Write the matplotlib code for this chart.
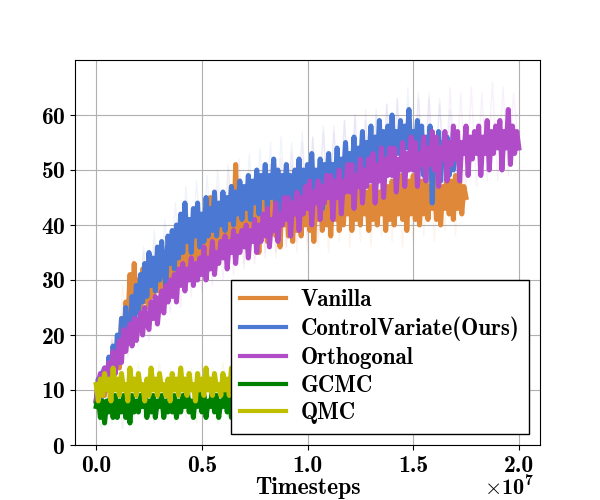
import matplotlib
matplotlib.use("Agg")
import matplotlib.pyplot as plt
from matplotlib.ticker import FuncFormatter
import numpy as np

plt.rcParams['font.family'] = ['cmb10', 'DejaVu Serif']
plt.rcParams['mathtext.fontset'] = 'cm'
plt.rcParams['axes.unicode_minus'] = False
plt.rcParams['axes.formatter.use_mathtext'] = True

STEP = 1e5        # spacing of the smoothed curves
RAW_STEP = 2.5e5  # spacing of the faint raw curves

labels = ["Vanilla", "ControlVariate(Ours)", "Orthogonal", "GCMC", "QMC"]
colors = ["#E0883A", "#4A78D2", "#B04CC8", "#008000", "#BFBF00"]
x_ticks = [0, 0.5e7, 1.0e7, 1.5e7, 2.0e7]
y_ticks = [0, 10, 20, 30, 40, 50, 60]

vanilla = [
    8, 11, 7, 12, 9, 13, 10, 15, 11, 16,
    18, 14, 23, 17, 26, 22, 31, 23, 33, 25,
    30, 24, 32, 26, 31, 25, 34, 27, 33, 28,
    34, 27, 35, 29, 33, 28, 36, 30, 37, 29,
    35, 31, 38, 30, 37, 32, 39, 31, 38, 33,
    39, 33, 41, 34, 45, 35, 40, 33, 42, 36,
    43, 35, 44, 37, 47, 36, 51, 38, 45, 37,
    44, 36, 46, 38, 43, 37, 45, 35, 44, 39,
    46, 37, 44, 39, 47, 38, 43, 36, 45, 40,
    46, 38, 44, 37, 47, 39, 45, 38, 46, 40,
    47, 39, 45, 37, 46, 41, 48, 39, 45, 40,
    47, 38, 46, 41, 48, 39, 45, 40, 47, 42,
    48, 39, 46, 41, 47, 40, 48, 42, 46, 39,
    47, 41, 48, 40, 46, 42, 49, 39, 47, 41,
    48, 40, 46, 42, 49, 41, 47, 39, 48, 42,
    49, 41, 47, 40, 48, 42, 50, 41, 47, 43,
    49, 41, 48, 40, 47, 43, 50, 42, 48, 41,
    49, 43, 48, 42, 47, 45,
]

control_variate = [
    8, 12, 7, 13, 14, 10, 16, 12, 18, 13,
    20, 15, 23, 17, 25, 20, 19, 27, 22, 29,
    24, 31, 26, 33, 27, 35, 29, 34, 28, 36,
    30, 37, 32, 29, 38, 33, 39, 32, 40, 34,
    42, 35, 44, 37, 41, 35, 43, 38, 44, 36,
    42, 37, 45, 38, 43, 39, 46, 38, 44, 40,
    46, 39, 45, 41, 47, 40, 46, 42, 48, 41,
    47, 43, 49, 41, 48, 44, 50, 42, 49, 45,
    51, 43, 49, 45, 52, 44, 50, 42, 49, 45,
    51, 44, 49, 43, 50, 46, 52, 44, 50, 46,
    51, 45, 53, 44, 50, 46, 52, 43, 51, 47,
    53, 45, 51, 47, 54, 46, 52, 48, 55, 47,
    53, 49, 56, 47, 54, 50, 57, 48, 55, 51,
    58, 49, 56, 51, 59, 50, 57, 52, 58, 51,
    60, 52, 57, 53, 59, 51, 58, 54, 61, 52,
    57, 53, 59, 51, 58, 49, 56, 52, 58, 44,
    55, 50, 57, 48, 55, 51, 56, 49, 54, 50, 53,
]

orthogonal = [
    8, 11, 13, 9, 14, 11, 15, 12, 17, 13,
    16, 19, 15, 21, 17, 20, 22, 18, 23, 19,
    22, 24, 20, 25, 22, 21, 26, 23, 27, 22,
    26, 28, 24, 29, 26, 30, 27, 31, 26, 32,
    29, 33, 28, 32, 30, 34, 29, 33, 30, 34,
    31, 36, 30, 34, 32, 37, 31, 35, 33, 37,
    34, 38, 32, 37, 35, 39, 33, 38, 35, 39,
    36, 40, 34, 39, 37, 41, 35, 40, 37, 42,
    38, 43, 36, 41, 39, 44, 37, 42, 40, 45,
    41, 45, 38, 44, 42, 46, 39, 45, 42, 47,
    43, 48, 40, 46, 44, 48, 41, 47, 44, 49,
    45, 49, 41, 48, 45, 50, 42, 48, 46, 51,
    46, 51, 43, 49, 47, 52, 44, 50, 47, 52,
    48, 53, 44, 51, 48, 54, 45, 52, 49, 54,
    49, 54, 46, 52, 50, 55, 47, 53, 50, 56,
    50, 55, 47, 53, 51, 56, 48, 54, 51, 57,
    50, 56, 47, 54, 52, 57, 48, 55, 51, 58,
    52, 57, 48, 55, 53, 58, 49, 56, 52, 57,
    53, 58, 49, 56, 53, 59, 50, 57, 53, 58,
    54, 59, 50, 57, 54, 61, 51, 58, 53, 57,
    54,
]

gcmc = [
    7, 9, 5, 8, 4, 8, 6, 10, 5, 9,
    5, 8, 6, 9, 5, 8, 4, 9, 6, 8,
    6, 9, 7, 10, 5, 8, 6, 9, 5, 8,
    7, 9, 5, 8, 6, 10, 6, 9, 5, 8,
    6, 9, 7, 11, 6, 8, 5, 9, 7, 10,
    6, 9, 5, 8, 7, 10, 6, 9, 5, 8,
    7, 10, 6, 9, 5, 8, 7, 9, 6, 8,
    7, 9, 8,
]

qmc = [
    11, 8, 12, 9, 13, 10, 12, 8, 14, 10,
    12, 9, 13, 10, 11, 8, 14, 10, 12, 9,
    13, 10, 11, 8, 12, 9, 14, 10, 12, 9,
    13, 10, 11, 9, 12, 8, 13, 10, 12, 9,
    14, 10, 12, 9, 13, 10, 11, 8, 13, 10,
    12, 9, 14, 10, 12, 9, 13, 10, 11, 9,
    13, 10, 12, 9, 14, 10, 12, 9, 13, 10,
    12, 10, 11,
]

vanilla_raw = [
    6, 14, 9, 20, 14, 29, 21, 34, 23, 35,
    24, 37, 25, 38, 27, 40, 28, 42, 30, 44,
    30, 45, 32, 47, 33, 50, 34, 49, 33, 50,
    34, 49, 35, 51, 34, 50, 36, 51, 35, 52,
    35, 51, 36, 52, 35, 51, 37, 52, 36, 51,
    37, 53, 36, 52, 38, 53, 37, 52, 36, 54,
    37, 53, 38, 54, 37, 53, 39, 55, 38, 54,
    44,
]

control_variate_raw = [
    9, 13, 10, 19, 14, 26, 19, 31, 22, 36,
    25, 39, 27, 41, 29, 44, 32, 47, 33, 48,
    35, 49, 35, 50, 37, 51, 36, 52, 38, 53,
    37, 54, 39, 55, 38, 56, 40, 55, 41, 57,
    40, 56, 42, 58, 41, 57, 43, 59, 42, 60,
    44, 59, 45, 61, 44, 62, 46, 63, 45, 65,
    47, 64, 46, 63, 44, 62, 46, 61, 48,
]

orthogonal_raw = [
    8, 14, 10, 19, 13, 23, 16, 26, 18, 29,
    19, 31, 22, 34, 24, 36, 25, 38, 27, 40,
    28, 41, 29, 43, 30, 45, 31, 46, 32, 48,
    33, 49, 34, 51, 35, 52, 36, 53, 37, 55,
    37, 56, 38, 57, 39, 58, 40, 59, 41, 60,
    41, 61, 42, 60, 43, 62, 43, 63, 44, 62,
    44, 63, 45, 64, 45, 63, 46, 65, 46, 64,
    47, 65, 47, 64, 48, 66, 48, 65, 49, 64,
    54,
]

gcmc_raw = [
    7, 3, 11, 4, 12, 3, 10, 4, 11, 5,
    12, 4, 11, 5, 10, 4, 12, 5, 11, 4,
    10, 5, 12, 4, 11, 5, 10, 4, 8,
]

qmc_raw = [
    11, 7, 14, 8, 15, 7, 14, 8, 15, 7,
    14, 8, 15, 7, 14, 8, 15, 7, 14, 8,
    15, 7, 14, 8, 15, 7, 14, 8, 11,
]

series = [vanilla, control_variate, orthogonal, gcmc, qmc]
raw_series = [vanilla_raw, control_variate_raw, orthogonal_raw, gcmc_raw, qmc_raw]

fig = plt.figure(figsize=(6, 5), dpi=100)
ax = fig.add_subplot(111)
ax.grid(True, color="#b0b0b0", linewidth=0.8)
ax.set_axisbelow(True)

for raw, col in zip(raw_series, colors):
    xr = np.arange(len(raw)) * RAW_STEP
    ax.plot(xr, raw, color=col, lw=1.0, alpha=0.08)

for vals, lab, col in zip(series, labels, colors):
    x = np.arange(len(vals)) * STEP
    ax.plot(x, vals, color=col, lw=3.6, label=lab)

ax.set_ylim(0, 70)
ax.set_xlim(-0.1e7, 2.1e7)
ax.set_yticks(y_ticks)
ax.set_xticks(x_ticks)
ax.xaxis.set_major_formatter(FuncFormatter(lambda v, p: f"{v / 1e7:.1f}"))
ax.tick_params(labelsize=17)
ax.set_xlabel("Timesteps", fontsize=17, labelpad=0)
ax.text(1.0 - 6 / 466, -0.078, r"$\times\mathdefault{10^{7}}$", transform=ax.transAxes,
        ha="right", va="top", fontsize=16)

leg = ax.legend(loc="lower right", fontsize=16.5, fancybox=False, framealpha=1,
                edgecolor="black", handlelength=2.0, labelspacing=0.25,
                handletextpad=0.65, borderaxespad=0.5)
leg.get_frame().set_linewidth(1.0)
for h in leg.get_lines():
    h.set_linewidth(3)

fig.savefig("out.png", dpi=100)
